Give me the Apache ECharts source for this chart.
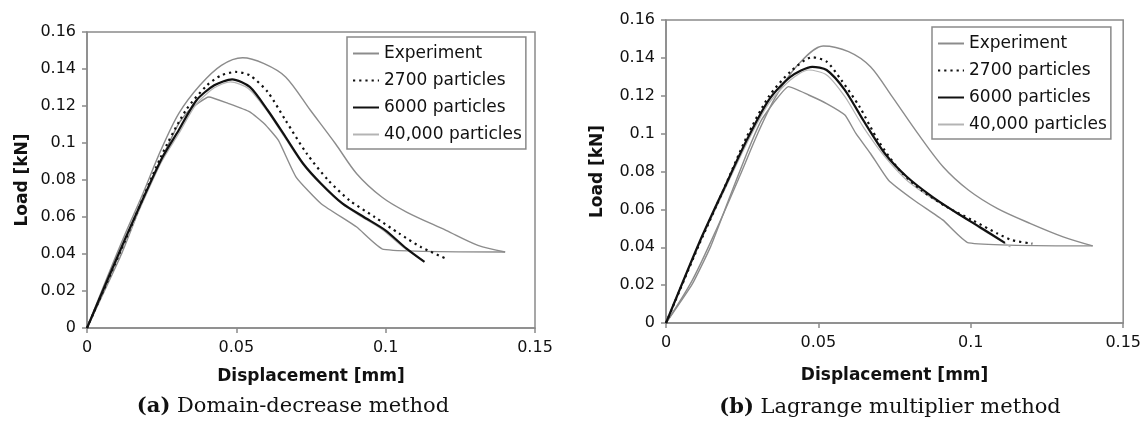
<!DOCTYPE html>
<html>
<head>
<meta charset="utf-8">
<script src="https://cdn.jsdelivr.net/npm/echarts@6/dist/echarts.min.js"></script>
<style>
html,body{margin:0;padding:0;background:#fff;}
#c{width:1144px;height:422px;}
</style>
</head>
<body>
<div id="c"></div>
<script>
// ---- data (Displacement [mm], Load [kN]) ----
const seriesNames = ['Experiment', '2700 particles', '6000 particles', '40,000 particles'];
const xTickLabels = ['0', '0.05', '0.1', '0.15'];
const yTickLabels = ['0', '0.02', '0.04', '0.06', '0.08', '0.1', '0.12', '0.14', '0.16'];
const captionA = '(a)';
const captionAText = ' Domain-decrease method';
const captionB = '(b)';
const captionBText = ' Lagrange multiplier method';

// (a) Domain-decrease method
const expUpperA = [[0,0],[0.0068,0.0276],[0.0128,0.051],[0.0187,0.0726],[0.0247,0.096],[0.0307,0.1159],[0.0378,0.1312],[0.045,0.142],[0.0521,0.1461],[0.0593,0.1429],[0.0665,0.1357],[0.0748,0.1177],[0.0832,0.0996],[0.0903,0.0834],[0.0987,0.0708],[0.107,0.0627],[0.1202,0.0528],[0.1309,0.0447],[0.14,0.0411]];
const expLowerA = [[0,0],[0.0116,0.0402],[0.0187,0.069],[0.0247,0.0906],[0.0307,0.1105],[0.0342,0.1177],[0.0408,0.1249],[0.0474,0.1213],[0.0545,0.1168],[0.0593,0.1105],[0.0641,0.1014],[0.07,0.0816],[0.0784,0.0672],[0.0903,0.0546],[0.0993,0.0425],[0.14,0.0411]];
const p2700A = [[0,0],[0.0128,0.0474],[0.0247,0.0924],[0.0331,0.1177],[0.0402,0.1312],[0.045,0.1366],[0.0498,0.1384],[0.0545,0.1366],[0.0605,0.1276],[0.0665,0.1122],[0.0736,0.0942],[0.0808,0.0798],[0.0879,0.069],[0.0963,0.06],[0.1046,0.051],[0.1118,0.0438],[0.1202,0.0375]];
const p6000A = [[0,0],[0.0128,0.0483],[0.0247,0.0906],[0.0307,0.1069],[0.0366,0.123],[0.0426,0.1312],[0.0486,0.1344],[0.0545,0.1303],[0.0605,0.1177],[0.0665,0.1032],[0.0724,0.0888],[0.0784,0.078],[0.0856,0.0672],[0.0927,0.06],[0.0999,0.0528],[0.107,0.0429],[0.113,0.0357]];
const p40000A = [[0,0],[0.0128,0.0465],[0.0247,0.089],[0.0307,0.105],[0.0366,0.121],[0.0426,0.1298],[0.048,0.133],[0.054,0.1295],[0.06,0.118],[0.066,0.1035],[0.072,0.089],[0.078,0.078],[0.085,0.0675],[0.092,0.06],[0.099,0.053],[0.106,0.0435],[0.1124,0.0366]];

// (b) Lagrange multiplier method
const expUpperB = [[0,0],[0.0086,0.0225],[0.0169,0.0507],[0.0241,0.0772],[0.0301,0.1001],[0.036,0.1195],[0.0432,0.1362],[0.0516,0.1463],[0.0599,0.1433],[0.0671,0.1353],[0.0742,0.1195],[0.0826,0.1001],[0.0909,0.0825],[0.0993,0.0701],[0.1088,0.0604],[0.1196,0.0525],[0.1303,0.0455],[0.14,0.0407]];
const expLowerB = [[0,0],[0.0086,0.0205],[0.0146,0.0402],[0.0205,0.0648],[0.0265,0.0895],[0.0313,0.1071],[0.036,0.1177],[0.0402,0.1248],[0.0468,0.1204],[0.0527,0.1159],[0.0587,0.1098],[0.0623,0.1001],[0.0671,0.0895],[0.073,0.0754],[0.0814,0.0648],[0.0909,0.0543],[0.0993,0.0423],[0.14,0.0407]];
const p2700B = [[0,0],[0.011,0.0419],[0.0193,0.0719],[0.0265,0.0983],[0.0337,0.1195],[0.0408,0.1327],[0.048,0.1403],[0.0527,0.138],[0.0575,0.1283],[0.0635,0.1142],[0.0695,0.0966],[0.0766,0.0807],[0.0838,0.0701],[0.0921,0.0613],[0.1005,0.0543],[0.1088,0.0472],[0.1136,0.0437],[0.1202,0.0419]];
const p6000B = [[0,0],[0.011,0.0428],[0.0193,0.0719],[0.0265,0.0966],[0.0337,0.1177],[0.0408,0.13],[0.048,0.1353],[0.0527,0.1336],[0.0587,0.123],[0.0647,0.1071],[0.0718,0.0895],[0.079,0.0772],[0.0874,0.0666],[0.0957,0.0578],[0.1029,0.0507],[0.1112,0.0423]];
const p40000B = [[0,0],[0.011,0.0419],[0.0193,0.0705],[0.0265,0.0948],[0.0337,0.1159],[0.0408,0.1283],[0.0468,0.1336],[0.0527,0.131],[0.0587,0.1195],[0.0647,0.1036],[0.0718,0.0878],[0.079,0.0754],[0.0874,0.0657],[0.0957,0.0578],[0.1041,0.049],[0.113,0.0402]];

// ---- styling ----
const FONT = 'DejaVu Sans';
const AXIS_GRAY = '#8a8a8a';
const styles = {
  'Experiment':       {color: '#8c8c8c', width: 1.4, type: 'solid', z: 2},
  '2700 particles':   {color: '#111111', width: 2.2, type: [2.2, 4], z: 4},
  '6000 particles':   {color: '#111111', width: 2.2, type: 'solid', z: 5},
  '40,000 particles': {color: '#b4b4b4', width: 1.2, type: 'solid', z: 3}
};

function axisX(gridIndex, nameGap) {
  return {
    type: 'value', gridIndex, min: 0, max: 0.15, interval: 0.05,
    name: 'Displacement [mm]', nameLocation: 'middle', nameGap,
    nameTextStyle: {fontFamily: FONT, fontWeight: 'bold', fontSize: 17, color: '#111'},
    axisLine: {show: true, lineStyle: {color: AXIS_GRAY, width: 1.5}},
    axisTick: {show: true, inside: false, length: 5, lineStyle: {color: AXIS_GRAY, width: 1.5}},
    axisLabel: {fontFamily: FONT, fontSize: 16, color: '#111', margin: 12,
      formatter: v => xTickLabels[Math.round(v / 0.05)]},
    splitLine: {show: false}
  };
}
function axisY(gridIndex, nameGap) {
  return {
    type: 'value', gridIndex, min: 0, max: 0.16, interval: 0.02,
    name: 'Load [kN]', nameLocation: 'middle', nameGap, nameRotate: 90,
    nameTextStyle: {fontFamily: FONT, fontWeight: 'bold', fontSize: 17, color: '#111'},
    axisLine: {show: true, lineStyle: {color: AXIS_GRAY, width: 1.5}},
    axisTick: {show: true, inside: false, length: 5, lineStyle: {color: AXIS_GRAY, width: 1.5}},
    axisLabel: {fontFamily: FONT, fontSize: 16, color: '#111', margin: 11,
      formatter: v => yTickLabels[Math.round(v / 0.02)]},
    splitLine: {show: false}
  };
}
function line(idx, name, data, smooth) {
  const s = styles[name];
  return {
    type: 'line', name, xAxisIndex: idx, yAxisIndex: idx,
    data, symbol: 'none', showSymbol: false, smooth,
    lineStyle: {color: s.color, width: s.width, type: s.type},
    itemStyle: {color: s.color},
    z: s.z, silent: true, animation: false
  };
}
function legend(left, top) {
  return {
    orient: 'vertical', left, top,
    data: seriesNames.slice(),
    itemWidth: 26, itemHeight: 14, itemGap: 10,
    padding: [8, 4, 6, 5],
    borderColor: '#8a8a8a', borderWidth: 1.5, backgroundColor: '#fff',
    textStyle: {fontFamily: FONT, fontSize: 17, color: '#111'},
    itemStyle: {opacity: 0, color: 'rgba(0,0,0,0)', borderWidth: 0},
    selectedMode: false
  };
}

const chart = echarts.init(document.getElementById('c'), null, {renderer: 'canvas'});
const series = [
  line(0, 'Experiment', expUpperA, 0.3),
  line(0, 'Experiment', expLowerA, 0.15),
  line(0, '2700 particles', p2700A, 0.25),
  line(0, '6000 particles', p6000A, 0.25),
  line(0, '40,000 particles', p40000A, 0.25),
  line(1, 'Experiment', expUpperB, 0.3),
  line(1, 'Experiment', expLowerB, 0.15),
  line(1, '2700 particles', p2700B, 0.25),
  line(1, '6000 particles', p6000B, 0.25),
  line(1, '40,000 particles', p40000B, 0.25)
];

function caption(x, y, bold, text) {
  return {type: 'text', x, y, silent: true, style: {
    text: '{b|' + bold + '}{n|' + text + '}',
    align: 'center', verticalAlign: 'middle',
    rich: {b: {fontFamily: 'DejaVu Serif', fontWeight: 'bold', fontSize: 21, fill: '#111'},
           n: {fontFamily: 'DejaVu Serif', fontSize: 21, fill: '#111'}}
  }};
}

chart.setOption({
  animation: false,
  backgroundColor: '#fff',
  grid: [
    {left: 87, top: 32, width: 448, height: 296, show: true, borderColor: AXIS_GRAY, borderWidth: 1.5, backgroundColor: 'transparent'},
    {left: 666, top: 20, width: 459, height: 303, show: true, borderColor: AXIS_GRAY, borderWidth: 1.5, backgroundColor: 'transparent'}
  ],
  xAxis: [axisX(0, 40), axisX(1, 44)],
  yAxis: [axisY(0, 56), axisY(1, 60)],
  legend: [legend(347, 37), legend(932, 27)],
  series,
  graphic: [
    caption(293, 407, captionA, captionAText),
    caption(890, 408, captionB, captionBText)
  ]
});
</script>
</body>
</html>
